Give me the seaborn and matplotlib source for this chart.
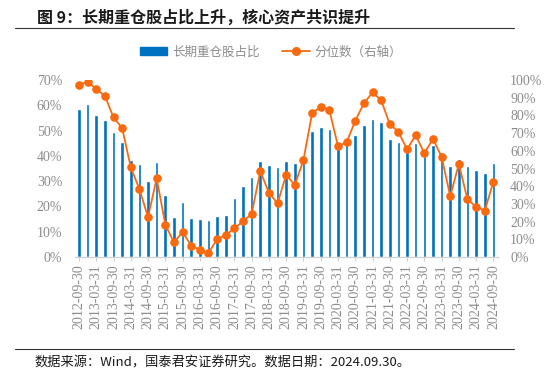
import pandas as pd
import matplotlib.pyplot as plt
import seaborn as sns
from matplotlib.patches import Patch
from matplotlib.lines import Line2D

# 季度末日期
quarters = pd.date_range('2012-09-30', '2024-09-30', freq='QE').strftime('%Y-%m-%d').tolist()

# 长期重仓股占比 (左轴)
share = [58.4, 60.6, 56.0, 54.2, 49.5, 45.7, 38.3, 36.8, 30.2, 37.4,
         24.6, 15.9, 21.6, 15.4, 15.0, 14.5, 16.2, 16.6, 23.2, 28.2,
         31.6, 37.9, 36.5, 35.8, 37.9, 37.0, 40.3, 49.8, 51.5, 50.6,
         43.0, 45.6, 48.2, 52.2, 54.5, 53.4, 46.5, 45.6, 43.0, 45.2,
         40.7, 44.3, 41.4, 36.0, 38.6, 36.0, 34.4, 33.3, 37.3]

# 分位数 (右轴)
pct = [97.2, 99.1, 94.9, 91.1, 78.9, 72.9, 50.7, 38.4, 22.4, 44.6,
       18.3, 8.3, 14.1, 6.4, 4.1, 2.1, 10.2, 12.4, 16.2, 20.2,
       24.3, 48.6, 36.3, 30.3, 46.5, 40.7, 54.8, 81.2, 84.9, 83.1,
       62.7, 64.8, 77.0, 86.8, 93.0, 88.7, 75.0, 70.8, 60.8, 68.9,
       58.6, 66.7, 56.7, 34.3, 52.5, 32.6, 28.4, 26.2, 42.5]

df = pd.DataFrame({'date': quarters, 'share': share, 'pct': pct})
df['idx'] = range(len(df))

sns.set_style('white')
plt.rcParams['font.family'] = ['Noto Sans CJK SC', 'DejaVu Sans']

blue = '#0070C0'
orange = '#F96A10'
gray = '#8C8C8C'

fig = plt.figure(figsize=(5.53, 3.76), dpi=100)
ax = fig.add_axes([0.135, 0.3165, 0.765, 0.4705])

sns.barplot(data=df, x='idx', y='share', color=blue, width=0.42,
            saturation=1, ax=ax)
ax2 = ax.twinx()
sns.lineplot(data=df, x='idx', y='pct', color=orange, lw=1.3, marker='o',
             markersize=6.2, markeredgewidth=0, ax=ax2)

ax.set_xlim(-0.5, len(df) - 0.5)
ax.set_ylim(0, 70)
ax2.set_ylim(0, 100)
ax.set_yticks(range(0, 71, 10))
ax.set_yticklabels([f'{v}%' for v in range(0, 71, 10)])
ax2.set_yticks(range(0, 101, 10))
ax2.set_yticklabels([f'{v}%' for v in range(0, 101, 10)])
ax.set_xticks(range(0, len(df), 2))
ax.set_xticklabels(quarters[::2], rotation=90)

serif = ['Liberation Serif', 'DejaVu Serif']
for a in (ax, ax2):
    a.set_xlabel('')
    a.set_ylabel('')
    for s in ('top', 'left', 'right'):
        a.spines[s].set_visible(False)
    a.spines['bottom'].set_color('#D0D0D0')
    a.tick_params(axis='y', length=0, labelcolor=gray, labelsize=10, pad=9)
    for lab in a.get_yticklabels():
        lab.set_fontfamily(serif)
ax.tick_params(axis='x', length=3, color='#D0D0D0', labelcolor=gray,
               labelsize=10, pad=2, bottom=True)
for lab in ax.get_xticklabels():
    lab.set_fontfamily(serif)

# 图例
handles = [Patch(color=blue),
           Line2D([], [], color=orange, lw=1.3, marker='o', markersize=5.5)]
fig.legend(handles, ['长期重仓股占比', '分位数（右轴）'], loc='center',
           bbox_to_anchor=(0.49, 0.862), ncol=2, frameon=False,
           fontsize=9, labelcolor=gray, handlelength=2.2, columnspacing=1.8,
           handletextpad=0.4)

# 标题与注释
fig.text(0.067, 0.952, '图 9：长期重仓股占比上升，核心资产共识提升',
         fontsize=11.5, fontweight='bold', va='center', color='#1A1A1A')
fig.add_artist(Line2D([0.027, 0.93], [0.925, 0.925], color='#333333', lw=0.8))
fig.add_artist(Line2D([0.027, 0.93], [0.072, 0.072], color='#333333', lw=0.8))
fig.text(0.063, 0.035, '数据来源：Wind，国泰君安证券研究。数据日期：2024.09.30。',
         fontsize=9.5, va='center', color='#1A1A1A')

fig.savefig('out.png', dpi=100)
